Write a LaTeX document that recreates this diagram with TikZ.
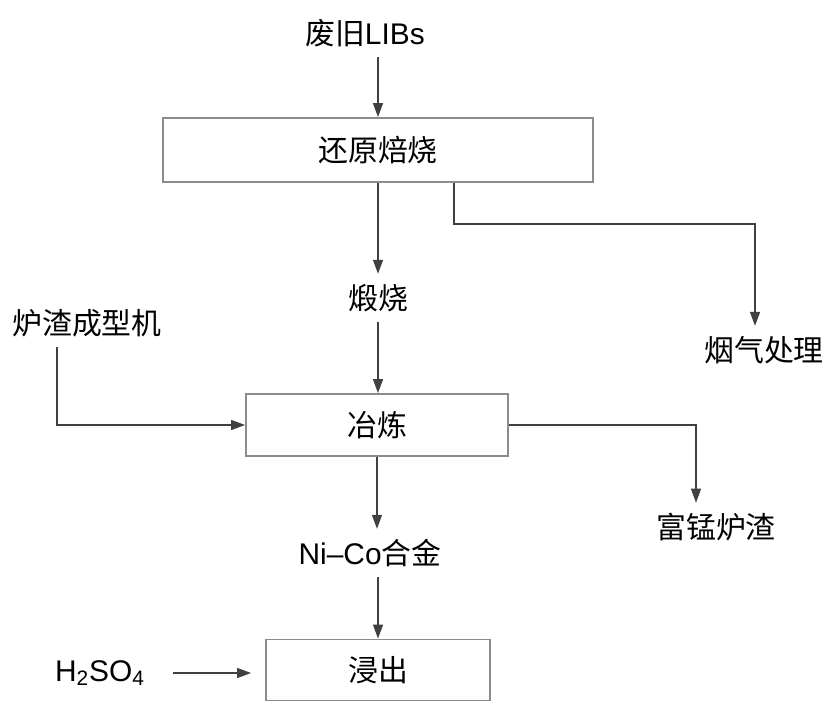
\documentclass[tikz,border=0pt]{standalone}
\usepackage{fontspec}
\setmainfont{Liberation Sans}
\newfontfamily\cjk{Noto Sans CJK SC}
\usetikzlibrary{arrows.meta}

\begin{document}
\begin{tikzpicture}[x=0.02cm, y=-0.02cm]
    \tikzstyle{proc} = [rectangle, draw=gray!90, line width=1.1pt, inner sep=0pt, font=\fontsize{17}{20}\selectfont\cjk]
    \tikzstyle{txt} = [inner sep=0.2cm, font=\fontsize{17}{20}\selectfont]
    \tikzstyle{arr} = [draw=black!75, line width=0.8pt, -{Triangle[length=0.28cm, width=0.2cm]}]

    \useasboundingbox (0,0) rectangle (838,724);

    % Process boxes
    \node[proc, minimum width=8.6cm, minimum height=1.28cm] (roast) at (378,150) {还原焙烧};
    \node[proc, minimum width=5.24cm, minimum height=1.24cm] (smelt) at (377,425) {冶炼};
    \node[proc, minimum width=4.48cm, minimum height=1.22cm] (leach) at (378,670) {浸出};

    % Materials
    \node[txt] (libs) at (365,33) {{\cjk 废旧}LIBs};
    \node[txt] (calc) at (378,298) {\cjk 煅烧};
    \node[txt] (slagm) at (87,323) {\cjk 炉渣成型机};
    \node[txt] (gas) at (764,350) {\cjk 烟气处理};
    \node[txt] (mnslag) at (716,527) {\cjk 富锰炉渣};
    \node[txt] (alloy) at (370,553) {Ni--Co{\cjk 合金}};
    \node[txt] (acid) at (100,673) {H\textsubscript{2}SO\textsubscript{4}};

    % Flows
    \draw[arr] (roast.north |- libs.south) -- (roast.north);
    \draw[arr] (roast.south) -- (roast.south |- calc.north);
    \draw[arr] ([xshift=1.52cm]roast.south) -- ++(0,41) -| ([xshift=-0.18cm]gas.north);
    \draw[arr] (calc.south) -- (smelt.north -| calc.south);
    \draw[arr] ([xshift=-0.6cm]slagm.south) |- (smelt.west);
    \draw[arr] (smelt.east) -| ([xshift=-0.4cm]mnslag.north);
    \draw[arr] (smelt.south) -- (smelt.south |- alloy.north);
    \draw[arr] (alloy.south -| leach.north) -- (leach.north);
    \draw[arr, shorten <=0.36cm, shorten >=0.28cm] (acid.east) -- (acid.east -| leach.west);

\end{tikzpicture}
\end{document}
